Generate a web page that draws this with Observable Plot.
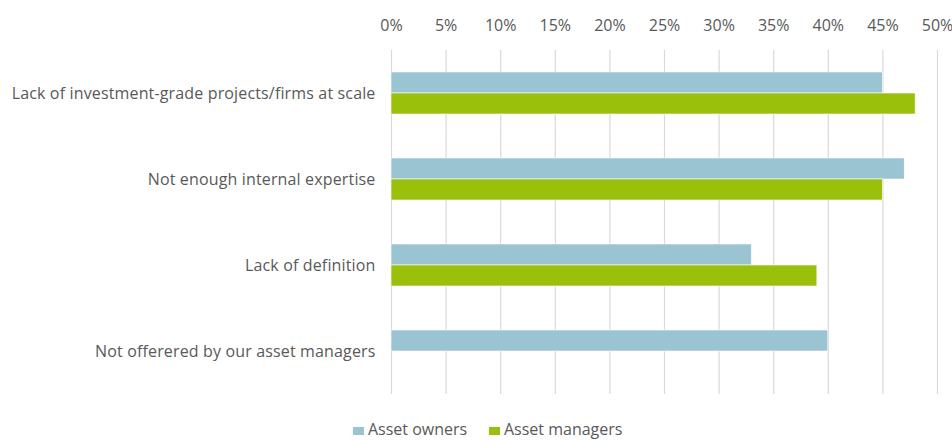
<!DOCTYPE html>
<html><head><meta charset="utf-8">
<script src="https://cdn.jsdelivr.net/npm/d3@7"></script>
<script src="https://cdn.jsdelivr.net/npm/@observablehq/plot@0.6"></script>
<style>
body{margin:0;background:#fff;font-family:"Open Sans",sans-serif;}
#legend{position:relative;height:26px;font-size:16px;color:#595959;white-space:nowrap;}
#legend .item{position:absolute;top:3px;line-height:22px;}
#legend .sw{display:inline-block;width:11px;height:8px;margin-right:4px;vertical-align:baseline;}
</style></head><body>
<div id="chart"></div><div id="legend"></div>
<script>
const categories = [
  "Lack of investment-grade projects/firms at scale",
  "Not enough internal expertise",
  "Lack of definition",
  "Not offerered by our asset managers"
];
const series = ["Asset owners", "Asset managers"];
const ownersValues = [0.45, 0.47, 0.33, 0.40];
const managersValues = [0.48, 0.45, 0.39, null];
const xTicks = [0, 0.05, 0.10, 0.15, 0.20, 0.25, 0.30, 0.35, 0.40, 0.45, 0.50];
const colors = ["#9BC4D2", "#9BC00C"];

const data = categories.flatMap((c, i) => [
  {category: c, series: series[0], value: ownersValues[i]},
  {category: c, series: series[1], value: managersValues[i]}
]).filter(d => d.value != null);

const chart = Plot.plot({
  width: 952, height: 415,
  marginLeft: 391, marginRight: 15, marginTop: 48, marginBottom: 20,
  style: {fontFamily: "'Open Sans', sans-serif", fontSize: "16px", color: "#595959", background: "#fff"},
  x: {domain: [0, 0.5], axis: "top", ticks: xTicks, tickFormat: d3.format(".0%"), tickSize: 0, tickPadding: 20, label: null},
  fy: {domain: categories, padding: 0, label: null, tickSize: 0, tickPadding: 16, axis: "left"},
  y: {domain: series, axis: null, paddingInner: 0, paddingOuter: 0.98},
  color: {domain: series, range: colors},
  marks: [
    Plot.ruleX(xTicks, {stroke: "#D9D9D9", strokeWidth: 1.2}),
    Plot.barX(data, {fy: "category", y: "series", x: "value", fill: "series", stroke: "#ffffff", strokeWidth: 0.6})
  ]
});
chart.querySelectorAll("[aria-label='fy-axis tick label'] text, g[aria-label='fy-axis'] text").forEach(t => t.setAttribute("letter-spacing", "0.15"));
document.getElementById("chart").appendChild(chart);

const legend = document.getElementById("legend");
const legendLeft = [353, 489];
series.forEach((s, i) => {
  const item = document.createElement("div");
  item.className = "item";
  item.style.left = legendLeft[i] + "px";
  const sw = document.createElement("span");
  sw.className = "sw";
  sw.style.background = colors[i];
  item.appendChild(sw);
  item.appendChild(document.createTextNode(s));
  legend.appendChild(item);
});
</script>
</body></html>
